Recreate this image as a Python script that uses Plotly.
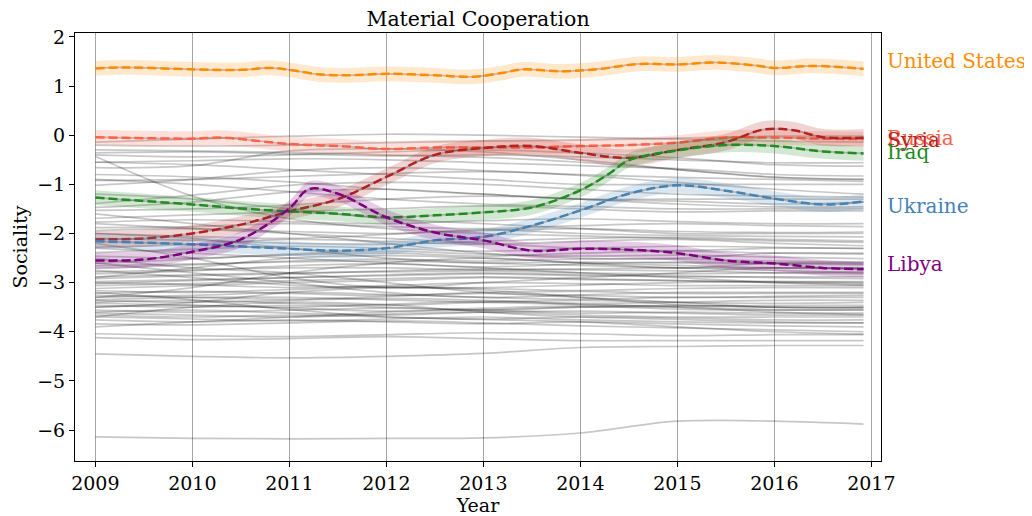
import plotly.graph_objects as go

# ──────────────────────────────────────────────
# Data
# ──────────────────────────────────────────────

YEAR_TICKS = [2009, 2010, 2011, 2012, 2013, 2014, 2015, 2016, 2017]
SOCIALITY_TICKS = [2, 1, 0, -1, -2, -3, -4, -5, -6]

# knots used for all background countries
GRAY_X = [2009, 2010, 2011, 2012, 2013, 2014, 2015, 2016, 2016.92]

GRAY_LINES = [
    [-0.14, -0.08, -0.02, 0.02, 0.00, -0.04, -0.08, -0.12, -0.14],
    [-0.20, -0.22, -0.20, -0.15, -0.12, -0.10, -0.06, -0.02, -0.02],
    [-0.30, -0.32, -0.35, -0.40, -0.45, -0.55, -0.70, -0.85, -0.90],
    [-0.36, -0.34, -0.38, -0.42, -0.40, -0.44, -0.50, -0.56, -0.56],
    [-0.40, -0.44, -0.40, -0.34, -0.30, -0.36, -0.46, -0.60, -0.63],
    [-0.43, -1.24, -1.70, -1.90, -2.00, -2.05, -2.10, -2.15, -2.18],
    [-0.55, -0.52, -0.48, -0.50, -0.56, -0.62, -0.68, -0.80, -0.83],
    [-0.55, -0.60, -0.70, -0.80, -0.90, -1.00, -1.00, -1.00, -1.00],
    [-0.66, -0.62, -0.32, -0.28, -0.34, -0.50, -0.70, -0.86, -0.90],
    [-0.80, -0.85, -0.95, -1.10, -1.20, -1.30, -1.30, -1.30, -1.30],
    [-0.90, -1.00, -1.15, -1.30, -1.40, -1.45, -1.50, -1.50, -1.50],
    [-0.92, -0.90, -0.84, -0.78, -0.74, -0.80, -0.86, -0.90, -0.94],
    [-1.02, -0.90, -0.72, -0.66, -0.72, -0.82, -0.96, -1.10, -1.20],
    [-1.20, -1.30, -1.50, -1.70, -1.80, -1.90, -2.00, -2.00, -2.00],
    [-1.39, -1.22, -1.02, -0.96, -1.00, -1.10, -1.20, -1.24, -1.26],
    [-1.47, -1.36, -1.16, -1.10, -1.20, -1.30, -1.34, -1.40, -1.36],
    [-1.53, -1.50, -1.42, -1.30, -1.24, -1.30, -1.40, -1.46, -1.46],
    [-1.60, -1.80, -2.00, -2.20, -2.40, -2.50, -2.50, -2.40, -2.40],
    [-1.69, -1.62, -1.56, -1.50, -1.44, -1.50, -1.56, -1.54, -1.54],
    [-1.77, -1.72, -1.76, -1.80, -1.74, -1.70, -1.76, -1.80, -1.80],
    [-1.80, -1.90, -2.00, -2.10, -2.20, -2.30, -2.35, -2.30, -2.30],
    [-1.88, -1.86, -1.80, -1.86, -1.90, -1.84, -1.80, -1.84, -1.86],
    [-1.94, -1.90, -1.96, -2.00, -1.94, -1.90, -1.96, -1.98, -1.97],
    [-2.00, -2.06, -2.10, -2.02, -1.92, -2.00, -2.04, -2.06, -2.07],
    [-2.00, -2.10, -2.30, -2.50, -2.60, -2.65, -2.70, -2.75, -2.80],
    [-2.10, -2.14, -2.20, -2.22, -2.16, -2.10, -2.08, -2.12, -2.15],
    [-2.20, -2.50, -2.90, -3.10, -3.00, -2.90, -2.80, -2.70, -2.70],
    [-2.28, -2.22, -2.12, -2.16, -2.22, -2.16, -2.12, -2.20, -2.25],
    [-2.30, -2.40, -2.50, -2.60, -2.70, -2.80, -2.90, -3.00, -3.05],
    [-2.39, -2.32, -2.26, -2.30, -2.36, -2.30, -2.26, -2.28, -2.31],
    [-2.46, -2.50, -2.44, -2.40, -2.46, -2.40, -2.36, -2.40, -2.42],
    [-2.50, -2.70, -2.80, -3.00, -3.20, -3.30, -3.40, -3.50, -3.50],
    [-2.60, -2.80, -3.00, -3.20, -3.30, -3.25, -3.20, -3.20, -3.20],
    [-2.61, -2.52, -2.42, -2.36, -2.42, -2.46, -2.44, -2.48, -2.51],
    [-2.66, -2.62, -2.58, -2.56, -2.60, -2.58, -2.60, -2.62, -2.64],
    [-2.71, -2.64, -2.56, -2.52, -2.56, -2.52, -2.52, -2.56, -2.58],
    [-2.75, -2.90, -3.05, -3.10, -3.10, -3.05, -3.00, -2.98, -3.00],
    [-2.78, -2.74, -2.70, -2.70, -2.74, -2.72, -2.70, -2.70, -2.72],
    [-2.82, -2.76, -2.66, -2.62, -2.68, -2.62, -2.58, -2.60, -2.62],
    [-2.88, -2.84, -2.80, -2.78, -2.76, -2.80, -2.82, -2.80, -2.78],
    [-2.90, -2.70, -2.50, -2.45, -2.50, -2.60, -2.65, -2.70, -2.70],
    [-2.92, -2.86, -2.82, -2.76, -2.72, -2.74, -2.76, -2.80, -2.82],
    [-2.98, -2.94, -2.90, -2.86, -2.82, -2.86, -2.88, -2.88, -2.88],
    [-3.02, -2.96, -2.90, -2.84, -2.80, -2.84, -2.86, -2.90, -2.92],
    [-3.06, -3.02, -2.96, -2.92, -2.88, -2.92, -2.96, -2.98, -2.98],
    [-3.12, -3.06, -3.00, -2.96, -2.90, -2.94, -2.96, -3.00, -3.02],
    [-3.00, -3.04, -3.10, -3.06, -3.00, -3.02, -3.06, -3.06, -3.06],
    [-3.16, -3.20, -3.14, -3.08, -3.12, -3.16, -3.12, -3.10, -3.10],
    [-3.20, -3.35, -3.55, -3.70, -3.75, -3.80, -3.90, -4.00, -4.05],
    [-3.22, -3.18, -3.22, -3.26, -3.20, -3.18, -3.22, -3.22, -3.22],
    [-3.26, -3.30, -3.34, -3.28, -3.22, -3.26, -3.30, -3.28, -3.26],
    [-3.30, -3.10, -2.80, -2.60, -2.50, -2.60, -2.70, -2.60, -2.60],
    [-3.30, -3.26, -3.20, -3.24, -3.30, -3.34, -3.30, -3.30, -3.30],
    [-3.35, -3.30, -3.30, -3.35, -3.40, -3.45, -3.50, -3.60, -3.65],
    [-3.36, -3.40, -3.36, -3.32, -3.36, -3.42, -3.40, -3.36, -3.36],
    [-3.40, -3.36, -3.42, -3.46, -3.40, -3.36, -3.40, -3.42, -3.40],
    [-3.42, -3.46, -3.50, -3.44, -3.38, -3.44, -3.48, -3.46, -3.46],
    [-3.46, -3.50, -3.46, -3.50, -3.56, -3.50, -3.46, -3.50, -3.52],
    [-3.50, -3.40, -3.20, -3.10, -3.15, -3.30, -3.45, -3.50, -3.50],
    [-3.50, -3.46, -3.52, -3.58, -3.52, -3.48, -3.54, -3.56, -3.56],
    [-3.56, -3.60, -3.56, -3.52, -3.56, -3.62, -3.60, -3.62, -3.62],
    [-3.60, -3.56, -3.62, -3.66, -3.60, -3.58, -3.62, -3.66, -3.66],
    [-3.62, -3.66, -3.70, -3.64, -3.60, -3.66, -3.70, -3.70, -3.70],
    [-3.66, -3.70, -3.66, -3.70, -3.74, -3.70, -3.72, -3.76, -3.76],
    [-3.70, -3.50, -3.40, -3.45, -3.60, -3.70, -3.75, -3.80, -3.82],
    [-3.70, -3.74, -3.78, -3.74, -3.70, -3.76, -3.80, -3.82, -3.82],
    [-3.76, -3.80, -3.76, -3.80, -3.84, -3.80, -3.84, -3.88, -3.90],
    [-3.84, -3.86, -3.82, -3.78, -3.82, -3.88, -3.92, -3.96, -4.00],
    [-3.90, -3.80, -3.70, -3.60, -3.55, -3.50, -3.50, -3.55, -3.55],
    [-4.04, -4.08, -4.10, -4.06, -4.02, -4.04, -4.08, -4.06, -4.06],
    [-4.12, -4.16, -4.14, -4.10, -4.14, -4.18, -4.18, -4.18, -4.18],
    [-4.45, -4.50, -4.53, -4.50, -4.44, -4.32, -4.30, -4.28, -4.28],
    [-6.14, -6.17, -6.18, -6.17, -6.16, -6.06, -5.82, -5.82, -5.88],
]

# highlighted countries
US_X = [2009, 2009.3, 2010, 2010.5, 2010.8, 2011, 2011.3, 2011.6, 2012, 2012.5,
        2012.9, 2013.2, 2013.4, 2013.8, 2014.2, 2014.6, 2015, 2015.4, 2015.8,
        2016, 2016.4, 2016.92]
US_Y = [1.36, 1.38, 1.34, 1.33, 1.37, 1.33, 1.24, 1.22, 1.25, 1.22,
        1.19, 1.27, 1.34, 1.30, 1.35, 1.45, 1.44, 1.48, 1.42,
        1.37, 1.41, 1.35]

RUSSIA_X = [2009, 2009.5, 2010, 2010.3, 2011, 2011.5, 2012, 2012.5, 2013,
            2013.5, 2014, 2014.5, 2015, 2015.5, 2016, 2016.5, 2016.92]
RUSSIA_Y = [-0.04, -0.06, -0.07, -0.05, -0.18, -0.22, -0.28, -0.25, -0.25,
            -0.25, -0.22, -0.20, -0.15, -0.05, -0.05, -0.07, -0.08]

SYRIA_X = [2009, 2009.5, 2010, 2010.5, 2011, 2011.5, 2012, 2012.5, 2013,
           2013.5, 2014, 2014.5, 2015, 2015.5, 2015.9, 2016.2, 2016.5, 2016.92]
SYRIA_Y = [-2.12, -2.10, -2.00, -1.82, -1.55, -1.30, -0.85, -0.40, -0.26,
           -0.22, -0.36, -0.46, -0.30, -0.14, 0.12, 0.10, -0.04, -0.05]

IRAQ_X = [2009, 2010, 2010.5, 2011, 2011.5, 2012, 2012.5, 2013, 2013.5, 2014,
          2014.3, 2014.5, 2015, 2015.5, 2016, 2016.5, 2016.92]
IRAQ_Y = [-1.27, -1.41, -1.49, -1.55, -1.60, -1.67, -1.63, -1.57, -1.47, -1.12,
          -0.78, -0.51, -0.31, -0.20, -0.22, -0.33, -0.37]

UKRAINE_X = [2009, 2010, 2011, 2011.5, 2012, 2012.5, 2013, 2013.5, 2014, 2014.5,
             2015, 2015.5, 2016, 2016.5, 2016.92]
UKRAINE_Y = [-2.16, -2.22, -2.31, -2.35, -2.30, -2.14, -2.07, -1.84, -1.53, -1.19,
             -1.02, -1.13, -1.29, -1.41, -1.35]

LIBYA_X = [2009, 2009.5, 2010, 2010.5, 2011, 2011.2, 2011.5, 2012, 2012.5, 2013,
           2013.5, 2014, 2014.5, 2015, 2015.5, 2016, 2016.5, 2016.92]
LIBYA_Y = [-2.55, -2.53, -2.37, -2.12, -1.49, -1.10, -1.19, -1.67, -1.98, -2.14,
           -2.35, -2.31, -2.33, -2.40, -2.55, -2.61, -2.70, -2.73]

# (name, x, y, colour, band half-width, label yshift px) -- drawn in this order
HIGHLIGHTS = [
    ("United States", US_X, US_Y, (255, 140, 0), 0.15, 8),
    ("Russia", RUSSIA_X, RUSSIA_Y, (255, 99, 71), 0.15, 1),
    ("Syria", SYRIA_X, SYRIA_Y, (178, 34, 34), 0.17, -2),
    ("Iraq", IRAQ_X, IRAQ_Y, (34, 139, 34), 0.15, 1),
    ("Ukraine", UKRAINE_X, UKRAINE_Y, (70, 130, 180), 0.15, -4),
    ("Libya", LIBYA_X, LIBYA_Y, (128, 0, 128), 0.16, 5),
]

FONT = "DejaVu Serif"
GRAY = "rgba(0,0,0,0.22)"

fig = go.Figure()

# background countries
for ys in GRAY_LINES:
    fig.add_trace(go.Scatter(
        x=GRAY_X, y=ys, mode="lines",
        line=dict(color=GRAY, width=1.7, shape="spline", smoothing=1),
        hoverinfo="skip", showlegend=False,
    ))

for name, xs, ys, rgb, err, _ in HIGHLIGHTS:
    r, g, b = rgb
    upper = [v + err for v in ys]
    lower = [v - err for v in ys]
    fig.add_trace(go.Scatter(
        x=xs, y=upper, mode="lines",
        line=dict(width=0, shape="spline", smoothing=1),
        hoverinfo="skip", showlegend=False,
    ))
    fig.add_trace(go.Scatter(
        x=xs, y=lower, mode="lines", fill="tonexty",
        fillcolor=f"rgba({r},{g},{b},0.2)",
        line=dict(width=0, shape="spline", smoothing=1),
        hoverinfo="skip", showlegend=False,
    ))
    # gray line under the dashes, like every other country
    fig.add_trace(go.Scatter(
        x=xs, y=ys, mode="lines",
        line=dict(color=GRAY, width=1.7, shape="spline", smoothing=1),
        hoverinfo="skip", showlegend=False,
    ))
    fig.add_trace(go.Scatter(
        x=xs, y=ys, mode="lines", name=name,
        line=dict(color=f"rgb({r},{g},{b})", width=2.5, dash="9px,4px",
                  shape="spline", smoothing=1),
        showlegend=False,
    ))

annotations = []
for name, xs, ys, rgb, err, shift in HIGHLIGHTS:
    r, g, b = rgb
    annotations.append(dict(
        x=1.005, xref="paper", xanchor="left",
        y=ys[-1], yref="y", yanchor="middle", yshift=shift,
        text=name, showarrow=False,
        font=dict(family=FONT, size=20, color=f"rgb({r},{g},{b})"),
    ))

# the page body adds an 8 px offset, so the figure is 8 px smaller on each side
fig.update_layout(
    width=1024, height=508,
    paper_bgcolor="white", plot_bgcolor="white",
    font=dict(family=FONT, size=19, color="black"),
    title=dict(text="Material Cooperation", x=0.459, xanchor="center",
               y=0.978, yanchor="middle", font=dict(family=FONT, size=20.5)),
    margin=dict(l=67, r=151, t=25, b=55),
    annotations=annotations,
    xaxis=dict(
        range=[2008.79, 2017.1], tickvals=YEAR_TICKS, automargin=False,
        showgrid=True, gridcolor="rgba(0,0,0,0.35)", gridwidth=1,
        zeroline=False, showline=True, linecolor="black", linewidth=1,
        mirror=True, ticks="outside", ticklen=5, tickcolor="black",
        title=dict(text="Year", standoff=13, font=dict(size=19)),
        tickfont=dict(size=19),
    ),
    yaxis=dict(
        range=[-6.63, 2.08], tickvals=SOCIALITY_TICKS, automargin=False,
        showgrid=False, zeroline=False, showline=True, linecolor="black",
        linewidth=1, mirror=True, ticks="outside", ticklen=5,
        tickcolor="black", title=dict(text="Sociality", standoff=4, font=dict(size=19)),
        tickfont=dict(size=19),
    ),
)

fig.write_html("out.html")
